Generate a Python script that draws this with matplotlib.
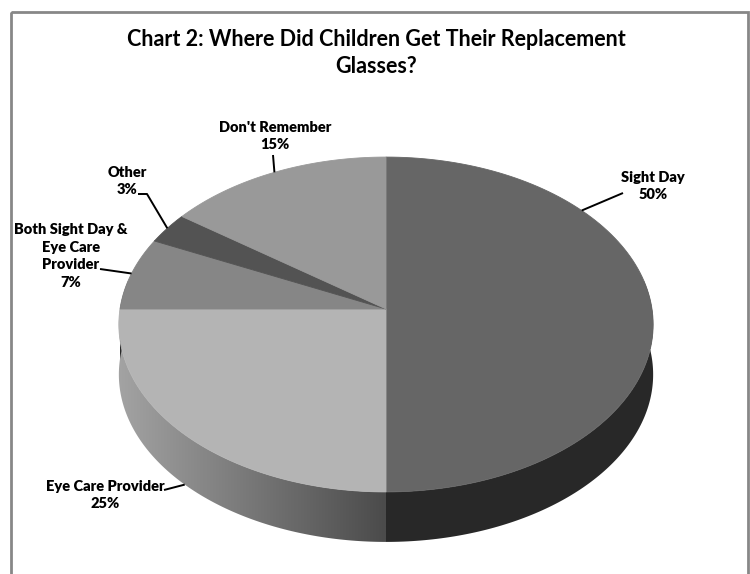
import numpy as np
import matplotlib
matplotlib.use("Agg")
import matplotlib.pyplot as plt
from matplotlib.patches import Polygon, Rectangle

# --- data ---
categories = ["Sight Day", "Eye Care Provider", "Both Sight Day &\nEye Care\nProvider", "Other", "Don't Remember"]
percent = [50, 25, 7, 3, 15]
title = "Chart 2: Where Did Children Get Their Replacement\nGlasses?"

# --- style / layout ---
top_colors = ["#666666", "#b4b4b4", "#868686", "#535353", "#999999"]
side_color = "#282828"
CX, CY = 386, 309        # projected pie centre (pixels)
RX, RY = 266, 166        # half axes of the top face
PERSP = 0.0925           # perspective strength
DEPTH = 50               # thickness of the pie
# where along each slice the leader touches (fraction of slice), and label placement
label_frac = [0.284, 0.5, 0.5, 0.5, 0.5]
label_pos = [(653, 186), (105, 495), (71, 256), (127, 181), (275, 136)]
leader_mid = [None, None, None, (147, 194), None]
leader_end = [(623, 193), (164, 490), (100, 269), (138, 194), (273, 155)]
on_bottom = [False, True, False, False, False]

FONT = ["Lato", "DejaVu Sans"]


def project(cw_deg):
    # angle measured clockwise from 12 o'clock
    th = np.radians(90 - np.asarray(cw_deg, dtype=float))
    x, y = np.cos(th), np.sin(th)
    d = 1 + PERSP * y
    return CX + RX * x / d, CY - RY * y / d


def arc(a0, a1, n=120):
    xs, ys = project(np.linspace(a0, a1, n))
    return np.column_stack([xs, ys])


fig = plt.figure(figsize=(7.5, 5.74), dpi=100)
ax = fig.add_axes([0, 0, 1, 1])
ax.set_xlim(0, 750)
ax.set_ylim(574, 0)
ax.axis("off")

# chart frame
ax.add_patch(Rectangle((11, 12), 737, 580, fill=False, edgecolor="#878787", lw=2, zorder=0))

total = sum(percent)
bounds = np.concatenate([[0], np.cumsum(percent)]) / total * 360

# sides (front half only)
for i in range(len(percent)):
    a0, a1 = max(bounds[i], 80), min(bounds[i + 1], 280)
    if a1 <= a0:
        continue
    top = arc(a0, a1)
    bot = top[::-1] + [0, DEPTH]
    poly = Polygon(np.vstack([top, bot]), closed=True, facecolor=side_color,
                   edgecolor="none", zorder=1)
    ax.add_patch(poly)
    if categories[i] == "Eye Care Provider":
        # light-to-dark gradient across the front side
        poly.set_facecolor("none")
        grad = np.linspace(0, 1, 256)[None, :]
        im = ax.imshow(grad, cmap=matplotlib.colors.LinearSegmentedColormap.from_list(
            "g", ["#a4a4a4", "#4b4b4b"]), extent=(CX - RX - 5, CX, CY + RY + DEPTH + 30, CY - 10),
            aspect="auto", zorder=1, interpolation="bilinear")
        im.set_clip_path(poly)

# top face
for i in range(len(percent)):
    pts = np.vstack([[CX, CY], arc(bounds[i], bounds[i + 1])])
    ax.add_patch(Polygon(pts, closed=True, facecolor=top_colors[i],
                         edgecolor=top_colors[i], lw=0.6, zorder=2))

# labels and leader lines
for i, name in enumerate(categories):
    a = bounds[i] + label_frac[i] * (bounds[i + 1] - bounds[i])
    ax_, ay_ = project(a)
    if on_bottom[i]:
        ay_ += DEPTH
    path = [(ax_, ay_)]
    if leader_mid[i] is not None:
        path.append(leader_mid[i])
    path.append(leader_end[i])
    path = np.array(path)
    ax.plot(path[:, 0], path[:, 1], color="black", lw=1.4, zorder=3,
            solid_capstyle="butt")
    ax.text(label_pos[i][0], label_pos[i][1], f"{name}\n{percent[i]}%",
            ha="center", va="center", fontsize=10.5, fontweight="heavy",
            family=FONT, linespacing=1.4, zorder=4)

ax.text(376, 53, title, ha="center", va="center", fontsize=15.5,
        family=FONT, fontweight="bold", linespacing=1.3)

fig.savefig("out.png", dpi=100)
